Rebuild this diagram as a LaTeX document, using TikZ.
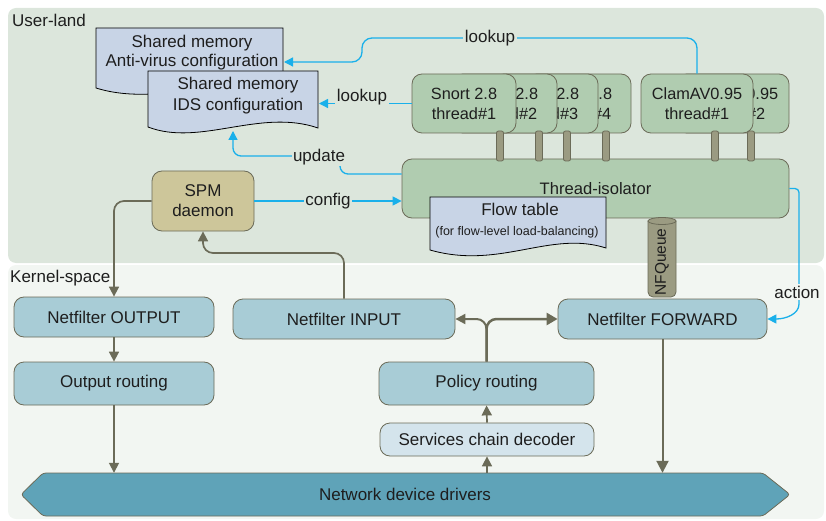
\documentclass[tikz,border=0pt]{standalone}
\usepackage{fontspec}
\setmainfont{Liberation Sans}
\usetikzlibrary{arrows.meta}
\definecolor{ubg}{HTML}{DCE6DC}
\definecolor{kbg}{HTML}{F2F6F2}
\definecolor{gbox}{HTML}{B0CCB0}
\definecolor{edgec}{HTML}{6B6B58}
\definecolor{docc}{HTML}{C8D4E6}
\definecolor{khaki}{HTML}{CDC69A}
\definecolor{kblue}{HTML}{A8CCD6}
\definecolor{lblue}{HTML}{D4E4EC}
\definecolor{drvc}{HTML}{5FA3B8}
\definecolor{pipec}{HTML}{9B9B82}
\definecolor{cyanA}{HTML}{1AB0EA}
\definecolor{txtc}{HTML}{1E1E1E}
\newcommand\myfs{\fontsize{17}{20}\selectfont}
\newcommand\mythr{\fontsize{16.3}{20}\selectfont}
\newcommand\mysmall{\fontsize{12.5}{14}\selectfont}
\tikzset{
  tbox/.style={draw=edgec, fill=gbox, rounded corners=10pt, line width=0.8pt, align=center, font=\mythr, text=txtc, inner sep=0pt},
  kbox/.style={draw=edgec, fill=kblue, rounded corners=10pt, line width=0.8pt, align=center, font=\myfs, text=txtc, inner sep=0pt},
  docst/.style={draw=black, fill=docc, line width=0.8pt},
  pipest/.style={draw=edgec, fill=pipec, line width=0.8pt},
  txt/.style={align=center, font=\myfs, text=txtc, inner sep=0pt},
  barrow/.style={draw=cyanA, line width=1.3pt, -{Triangle[length=9pt,width=9pt]}},
  oarrow/.style={draw=edgec, line width=1.7pt, -{Triangle[length=10pt,width=10pt]}},
  tarrow/.style={draw=edgec, line width=2.5pt, -{Triangle[length=11pt,width=12pt]}},
  lbl/.style={fill=ubg, font=\myfs, text=txtc, inner sep=1.5pt},
}
\begin{document}
\begin{tikzpicture}[x=1pt,y=-1pt]
\useasboundingbox (0,0) rectangle (826,521);
% backgrounds
\fill[ubg, rounded corners=8pt] (8,8) rectangle (824,263);
\fill[kbg, rounded corners=8pt] (8,265) rectangle (824,519);
\node[anchor=west, font=\myfs, text=txtc, inner sep=0pt] (ul) at (12,20) {User-land};
\node[anchor=west, font=\myfs, text=txtc, inner sep=0pt] (ks) at (10,278) {Kernel-space};
% documents
\draw[docst] (96,28) -- (283,28) -- (283,90) .. controls (230,72) and (160,108) .. (96,88) -- cycle;
\node[txt, font=\fontsize{17}{19}\selectfont] (av) at (192,53) {Shared memory\\Anti-virus configuration};
\coordinate (avR) at (284,62);
\draw[docst] (148,71) -- (318,71) -- (318,128) .. controls (260,108) and (200,147) .. (148,127) -- cycle;
\node[txt, font=\fontsize{17}{21}\selectfont] (ids) at (238,95.5) {Shared memory\\IDS configuration};
\coordinate (idsR) at (319,103.5);
\coordinate (idsB) at (233,131);
% thread boxes
\node[tbox, minimum width=104pt, minimum height=59pt] (s4) at (579,103.5) {Snort 2.8\\thread\#4};
\node[tbox, minimum width=104pt, minimum height=59pt] (s3) at (546,103.5) {Snort 2.8\\thread\#3};
\node[tbox, minimum width=104pt, minimum height=59pt] (s2) at (505,103.5) {Snort 2.8\\thread\#2};
\node[tbox, minimum width=104pt, minimum height=59pt] (s1) at (464,103.5) {Snort 2.8\\thread\#1};
\node[tbox, minimum width=112pt, minimum height=59pt] (c2) at (733,103.5) {ClamAV0.95\\thread\#2};
\node[tbox, minimum width=112pt, minimum height=59pt] (c1) at (697,103.5) {ClamAV0.95\\thread\#1};
% thread isolator
\node[tbox, font=\fontsize{16.6}{20}\selectfont, minimum width=387pt, minimum height=59pt] (iso) at (595.5,188.5) {Thread-isolator};
% pipes
\foreach \px in {500,539,567,606,715,751}{
  \draw[pipest, rounded corners=2pt] (\px-3.5,131) rectangle (\px+3.5,161);
}
% flow table
\draw[docst] (430,197) -- (606,197) -- (606,248) .. controls (550,230) and (500,270) .. (430,250) -- cycle;
\node[txt] (flow) at (520,209) {Flow table};
\node[txt, font=\mysmall] (flowsub) at (517,232) {(for flow-level load-balancing)};
% NFQueue
\draw[pipest, rounded corners=5pt] (648,221) -- (648,297) -- (676,297) -- (676,221);
\draw[pipest] (662,221) ellipse (14pt and 3.5pt);
\node[txt, rotate=90, font=\fontsize{15.5}{18}\selectfont] (nfq) at (662,262) {NFQueue};
% SPM
\node[draw=edgec, fill=khaki, rounded corners=10pt, line width=0.8pt, align=center, font=\myfs, text=txtc, minimum width=102pt, minimum height=60pt, inner sep=0pt] (spm) at (203,201) {SPM\\daemon};
% kernel boxes
\node[kbox, minimum width=200pt, minimum height=40pt] (out) at (114,317) {Netfilter OUTPUT};
\node[kbox, minimum width=200pt, minimum height=43pt] (outr) at (114,383.5) {Output routing};
\node[kbox, minimum width=222pt, minimum height=40pt] (inp) at (344,319) {Netfilter INPUT};
\node[kbox, minimum width=209pt, minimum height=40pt] (fwd) at (662.5,319) {Netfilter FORWARD};
\node[kbox, minimum width=215pt, minimum height=43pt] (pol) at (486.5,383.5) {Policy routing};
\node[kbox, fill=lblue, minimum width=214pt, minimum height=33pt] (svc) at (487,439.5) {Services chain decoder};
% drivers
\draw[draw=edgec, fill=drvc, line width=0.8pt, rounded corners=3pt] (43,473) -- (763,473) -- (790,494.5) -- (763,516) -- (43,516) -- (21,494.5) -- cycle;
\node[txt, minimum width=720pt, minimum height=43pt] (drv) at (405,494.5) {Network device drivers};
% olive connectors
\draw[oarrow, rounded corners=10pt] (spm.west) -| (out.north);
\coordinate (c1b) at (203,253);
\draw[oarrow, rounded corners=10pt] (inp.north) |- (c1b) -- (spm.south);
\draw[oarrow] (out.south) -- (outr.north);
\draw[oarrow] (outr.south) -- (outr.south |- drv.north);
\draw[oarrow] (drv.north -| svc.south) -- (svc.south);
\draw[oarrow] (svc.north) -- (pol.south);
\draw[tarrow, rounded corners=10pt] (pol.north) |- (fwd.west);
\draw[oarrow, line width=2pt, rounded corners=10pt] (pol.north) |- (inp.east);
\draw[oarrow, line width=2pt, -{Triangle[length=12pt,width=12pt]}] (fwd.south) -- (fwd.south |- drv.north);
% blue connectors
\draw[barrow] (spm.east) -- (spm.east -| iso.west) node[lbl, midway] {config};
\draw[barrow] (s1.west) -- (idsR);
\node[lbl] (lk1) at (362,97) {lookup};
\draw[barrow, rounded corners=10pt] (c1.north) |- (362,38) |- (avR);
\node[lbl] (lk2) at (490,38) {lookup};
\draw[barrow, rounded corners=8pt] ([yshift=14.5pt]iso.west) -- (340,174) -- (340,156) -| (idsB);
\node[lbl] (upd) at (319,157) {update};
\draw[barrow, rounded corners=4pt] (iso.east) -- (799,188.5) -- (799,300) .. controls (799,314) and (786,319) .. (fwd.east);
\node[lbl, fill=kbg] (act) at (797,292) {action};
\end{tikzpicture}
\end{document}
